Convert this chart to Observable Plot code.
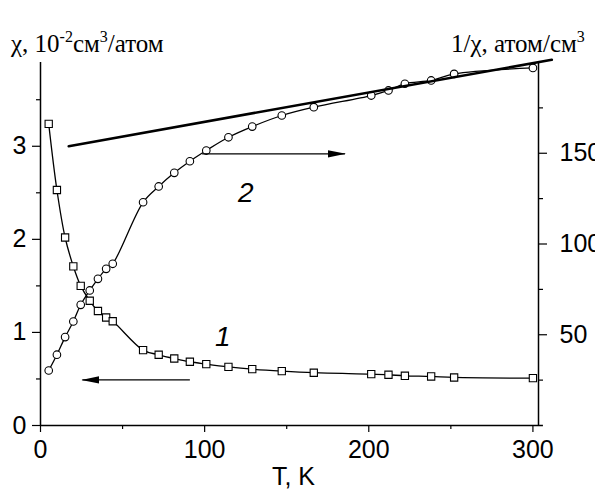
<!DOCTYPE html>
<html>
<head>
<meta charset="utf-8">
<script src="https://cdn.jsdelivr.net/npm/d3@7"></script>
<script src="https://cdn.jsdelivr.net/npm/@observablehq/plot@0.6"></script>
<style>
  html, body { margin: 0; padding: 0; background: #fff; overflow: hidden; }
  #chart svg { display: block; }
</style>
</head>
<body>
<div id="chart"></div>
<script>
// Temperature points, K (shared by both curves)
const T = [5, 10, 15, 20, 24.5, 30, 35, 40, 44, 62.5, 72, 81.5, 91, 101, 114.5, 129, 147, 166.5, 201.5, 212, 222, 238, 252, 300];
// Curve 1: susceptibility χ, 10^-2 cm^3/atom (left axis)
const chi = [3.24, 2.53, 2.02, 1.71, 1.50, 1.34, 1.23, 1.16, 1.12, 0.81, 0.76, 0.72, 0.685, 0.66, 0.63, 0.605, 0.584, 0.567, 0.552, 0.545, 0.534, 0.527, 0.516, 0.509];
// Curve 2: inverse susceptibility 1/χ, atom/cm^3 (right axis)
const invChi = [30.3, 39, 48.7, 57.3, 66.5, 74.4, 80.8, 86.3, 89.1, 123, 131.7, 139.2, 145.6, 151.5, 158.8, 164.7, 170.8, 175.4, 181.8, 184.6, 188.3, 190.1, 193.7, 197];
// Straight Curie–Weiss fit through the high-temperature part of 1/χ
const fitT = [17.2, 311.5];
const fitInv = [153.9, 201.5];

// Axis ticks
const xTicks = [0, 100, 200, 300];
const xMinor = [50, 150, 250];
const chiTicks = [0, 1, 2, 3];
const chiMinor = [0.5, 1.5, 2.5, 3.5];
const invTicks = [50, 100, 150];
const invMinor = [25, 75, 125, 175];

// Scale extents
const xMax = 303.4;
const chiMax = 3.9;
const invMax = 200;
const k = chiMax / invMax; // maps the right axis onto the left one

// Curve labels and direction arrows
const curveLabels = [{text: "1", T: 111, chi: 0.95}, {text: "2", T: 125, chi: 2.5}];
const arrows = [
  {T1: 91, T2: 25.5, y: 0.49},          // curve 1 -> left axis
  {T1: 98.5, T2: 185.5, y: 149.7 * k}   // curve 2 -> right axis
];

const rows = T.map((t, i) => ({T: t, chi: chi[i], inv: invChi[i] * k}));

const axisFont = 25;

const plot = Plot.plot({
  width: 595,
  height: 489,
  marginLeft: 40,
  marginRight: 57,
  marginTop: 62,
  marginBottom: 64,
  style: {fontFamily: "'Liberation Sans', Arial, sans-serif", background: "#fff", color: "#000", overflow: "visible"},
  x: {domain: [0, xMax]},
  y: {domain: [0, chiMax]},
  marks: [
    // left axis
    Plot.axisY({ticks: chiTicks, tickFormat: d3.format("d"), tickSize: 8, tickPadding: 6, fontSize: axisFont, label: null, strokeWidth: 1.2}),
    Plot.axisY({ticks: chiMinor, tickSize: 4, tickFormat: () => "", label: null, strokeWidth: 1.2}),
    // right axis (1/χ): ticks, then labels placed beside them
    Plot.axisY({anchor: "right", ticks: invTicks.map(v => v * k), tickSize: 8, tickFormat: () => "", label: null, strokeWidth: 1.2}),
    Plot.axisY({anchor: "right", ticks: invMinor.map(v => v * k), tickSize: 4, tickFormat: () => "", label: null, strokeWidth: 1.2}),
    Plot.text(invTicks, {x: () => xMax, y: d => d * k, text: d => String(d), dx: 21, textAnchor: "start", fontSize: axisFont, fill: "#000"}),
    // bottom axis
    Plot.axisX({ticks: xTicks, tickSize: 7, tickPadding: 8, fontSize: axisFont, label: null, strokeWidth: 1.2}),
    Plot.axisX({ticks: xMinor, tickSize: 4, tickFormat: () => "", label: null, strokeWidth: 1.2}),
    // axis lines
    Plot.ruleX([0], {stroke: "#000", strokeWidth: 1.5}),
    Plot.ruleX([xMax], {stroke: "#000", strokeWidth: 1.5}),
    Plot.ruleY([0], {x1: 0, x2: xMax + 3, stroke: "#000", strokeWidth: 1.5}),
    Plot.text(["T, K"], {frameAnchor: "bottom", dx: 4, dy: 59, lineAnchor: "bottom", fontSize: axisFont, fill: "#000"}),

    // curves
    Plot.line(rows, {x: "T", y: "chi", curve: "catmull-rom", stroke: "#000", strokeWidth: 1.3}),
    Plot.line(rows, {x: "T", y: "inv", curve: "catmull-rom", stroke: "#000", strokeWidth: 1.3}),
    Plot.dot(rows, {x: "T", y: "chi", symbol: "square", r: 4.1, fill: "#fff", stroke: "#000", strokeWidth: 1.1}),
    Plot.dot(rows, {x: "T", y: "inv", symbol: "circle", r: 3.8, fill: "#fff", stroke: "#000", strokeWidth: 1.1}),
    // fit line
    Plot.line(fitT, {x: d => d, y: (d, i) => fitInv[i] * k, stroke: "#000", strokeWidth: 2.6}),

    // arrows
    Plot.link(arrows, {x1: "T1", x2: "T2", y1: "y", y2: "y", stroke: "#000", strokeWidth: 1.3}),
    // curve numbers
    Plot.text(curveLabels, {x: "T", y: "chi", text: "text", fontSize: 28, fontStyle: "italic", fill: "#000"})
  ]
});

document.getElementById("chart").appendChild(plot);

// Filled arrowheads and the two axis titles with superscripts
const svg = d3.select(plot);
const defs = svg.append("defs");
defs.append("marker")
  .attr("id", "head")
  .attr("markerUnits", "userSpaceOnUse")
  .attr("viewBox", "0 -4 18 8")
  .attr("markerWidth", 18)
  .attr("markerHeight", 8)
  .attr("refX", 17)
  .attr("refY", 0)
  .attr("orient", "auto")
  .append("path")
  .attr("d", "M0,-3.6L18,0L0,3.6Z")
  .attr("fill", "#000");
svg.selectAll('g[aria-label="link"] path').attr("marker-end", "url(#head)");

function title(x, y, parts, anchor) {
  const t = svg.append("text")
    .attr("x", x).attr("y", y)
    .attr("text-anchor", anchor)
    .attr("font-family", "'Liberation Serif', 'Times New Roman', serif")
    .attr("font-size", 25)
    .attr("fill", "#000");
  let raised = false;
  for (const [s, sup] of parts) {
    const span = t.append("tspan").text(s);
    if (sup && !raised) { span.attr("dy", -10).attr("font-size", 16); raised = true; }
    else if (sup) { span.attr("font-size", 16); }
    else if (raised) { span.attr("dy", 10); raised = false; }
  }
}
title(11, 52, [["χ, 10", false], ["-2", true], ["см", false], ["3", true], ["/атом", false]], "start");
title(451, 52, [["1/χ, атом/см", false], ["3", true]], "start");
</script>
</body>
</html>
